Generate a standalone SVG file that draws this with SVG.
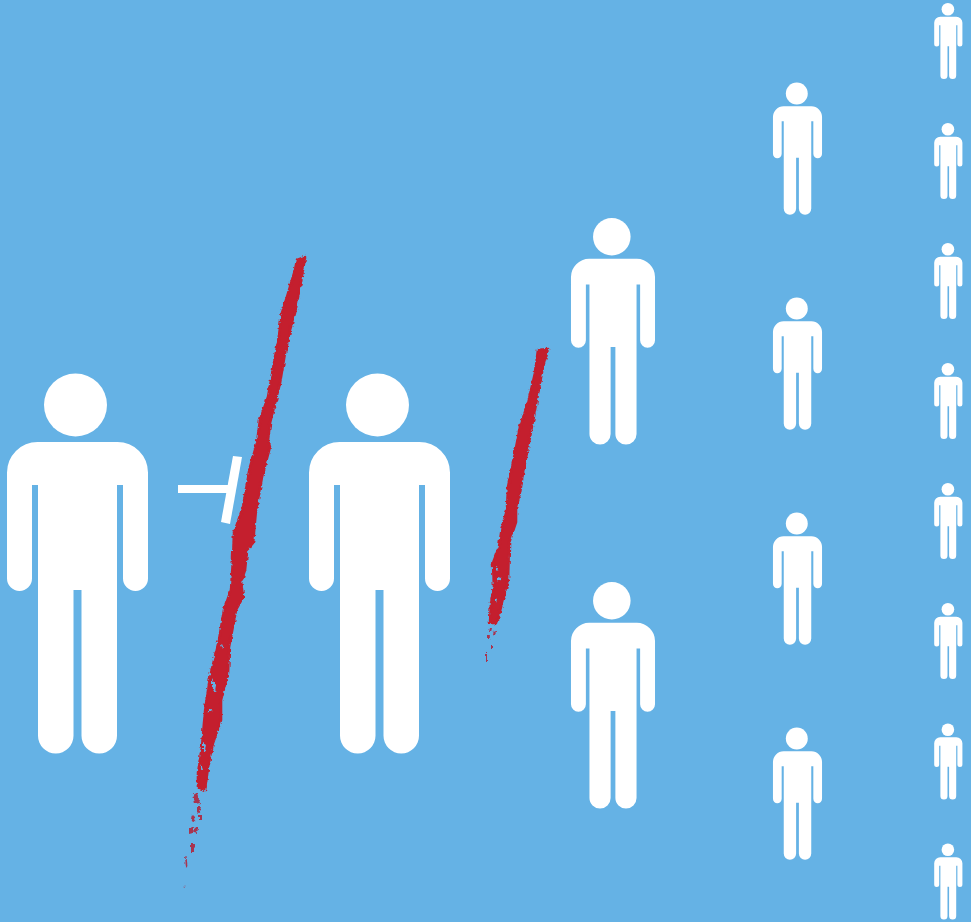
<svg xmlns="http://www.w3.org/2000/svg" width="971" height="922" viewBox="0 0 971 922">
  <style>
    .fig { fill: #ffffff; filter: url(#soft); }
    .slash { fill: #c41f2e; stroke: #c41f2e; stroke-width: 2.6; stroke-linejoin: round; }
    .speck { fill: #a8344f; }
    .fleck { fill: #65b2e5; }
    .bar { fill: #ffffff; filter: url(#soft); }
  </style>
  <defs>
    <filter id="soft" x="-5%" y="-5%" width="110%" height="110%">
      <feGaussianBlur stdDeviation="0.45"/>
    </filter>
    <filter id="rough" x="-20%" y="-5%" width="140%" height="110%" color-interpolation-filters="sRGB">
      <feTurbulence type="fractalNoise" baseFrequency="0.3" numOctaves="2" seed="4" result="n"/>
      <feDisplacementMap in="SourceGraphic" in2="n" scale="4" xChannelSelector="R" yChannelSelector="G"/>
      <feGaussianBlur stdDeviation="0.45"/>
    </filter>
    <g id="person">
      <circle cx="-2" cy="31.500" r="31.5"/>
      <path d="M-40 68.500H40A30.500 30.500 0 0 1 70.500 99V205A12.500 12.500 0 0 1 45.500 205V111.500H39.500V362.250A17.750 17.750 0 0 1 4 362.250V216.500H-4V362.250A17.750 17.750 0 0 1 -39.500 362.250V111.500H-45.500V205A12.500 12.500 0 0 1 -70.500 205V99A30.500 30.500 0 0 1 -40 68.500Z"/>
    </g>
  </defs>
  <rect id="background" width="971" height="922" fill="#65b2e5"/>

  <g id="person-large-1" class="fig"><use href="#person" transform="translate(77.5 373.5)"/></g>
  <g id="person-large-2" class="fig"><use href="#person" transform="translate(379.5 373.5)"/></g>

  <g id="person-medium-1" class="fig"><use href="#person" transform="translate(613 218) scale(0.596)"/></g>
  <g id="person-medium-2" class="fig"><use href="#person" transform="translate(613 582) scale(0.596)"/></g>

  <g id="person-small-1" class="fig"><use href="#person" transform="translate(797.5 82.500) scale(0.348)"/></g>
  <g id="person-small-2" class="fig"><use href="#person" transform="translate(797.5 297.500) scale(0.348)"/></g>
  <g id="person-small-3" class="fig"><use href="#person" transform="translate(797.5 512.500) scale(0.348)"/></g>
  <g id="person-small-4" class="fig"><use href="#person" transform="translate(797.5 727.500) scale(0.348)"/></g>

  <g id="person-tiny-1" class="fig"><use href="#person" transform="translate(948.3 3) scale(0.2)"/></g>
  <g id="person-tiny-2" class="fig"><use href="#person" transform="translate(948.3 123) scale(0.2)"/></g>
  <g id="person-tiny-3" class="fig"><use href="#person" transform="translate(948.3 243) scale(0.2)"/></g>
  <g id="person-tiny-4" class="fig"><use href="#person" transform="translate(948.3 363) scale(0.2)"/></g>
  <g id="person-tiny-5" class="fig"><use href="#person" transform="translate(948.3 483) scale(0.2)"/></g>
  <g id="person-tiny-6" class="fig"><use href="#person" transform="translate(948.3 603) scale(0.2)"/></g>
  <g id="person-tiny-7" class="fig"><use href="#person" transform="translate(948.3 723.500) scale(0.2)"/></g>
  <g id="person-tiny-8" class="fig"><use href="#person" transform="translate(948.3 843.500) scale(0.2)"/></g>

  <g id="connectors">
    <polygon class="bar" points="178,485 228,485 228,493 178,493"/>
    <polygon class="bar" points="233,456 242,457 230,524 221,522"/>
  </g>

  <g id="slash-large" filter="url(#rough)">
    <path class="slash" d="M297 260L305 257L303 270L295 313L290 330L285 353L280 383L270 423L268 440L270 447L262 477L256 510L253 543L247 550L245 570L241 582L243 597L236 610L229 647L228 673L221 700L221 720L213 743L208 767L205 790L198 787L198 773L202 747L204 723L206 703L211 673L219 640L224 610L231 590L233 560L234 533L243 507L250 467L257 443L260 420L268 397L272 375L275 357L278 343L282 313L287 297L295 270Z"/>
    <path class="fleck" d="M222 644l2 5-1 0-2-4zM212 678l4 8-1 6-3-5zM208 708l4 1-1 3-3-1zM203 742l3 2-1 8-2-3zM201 764l2 6-2 1z"/>
    <path class="speck" d="M193 793l4 1 3 9-5 1zM197 806l4 0-1 7-3-1zM192 815l3 1-1 5-3-1zM199 815l3 0 0 5-3 0zM189 828l4-1 0 6-4 1zM195 827l3 0-1 6-3-1zM191 844l4 0-1 8-3 0zM185 856l1.500 0 1 10-1.500 2z"/>
    <circle class="speck" cx="184.500" cy="887" r="1" opacity="0.5"/>
  </g>

  <g id="slash-small" filter="url(#rough)">
    <path class="slash" d="M538 350L548 349L543 367L538 393L530 437L523 473L520 493L516 507L516 522L509 543L508 580L501 607L497 623L490 623L491 603L494 587L493 563L499 547L502 527L507 510L508 487L515 453L520 427L528 403L535 373Z"/>
    <path class="fleck" d="M496 566l3 2-1 4-2-2zM498 577l3 1-1 3-2-1zM495 598l2 1-1 3-1-1z"/>
    <path class="speck" d="M490 628l2 0-1 4-2 0zM494 630l2 1-1 4-2-1zM487 636l3 0-1 3-2 0zM491 645l2 0 0 4-2 0zM486 652l1 0 0 9-1 0z"/>
  </g>
</svg>
